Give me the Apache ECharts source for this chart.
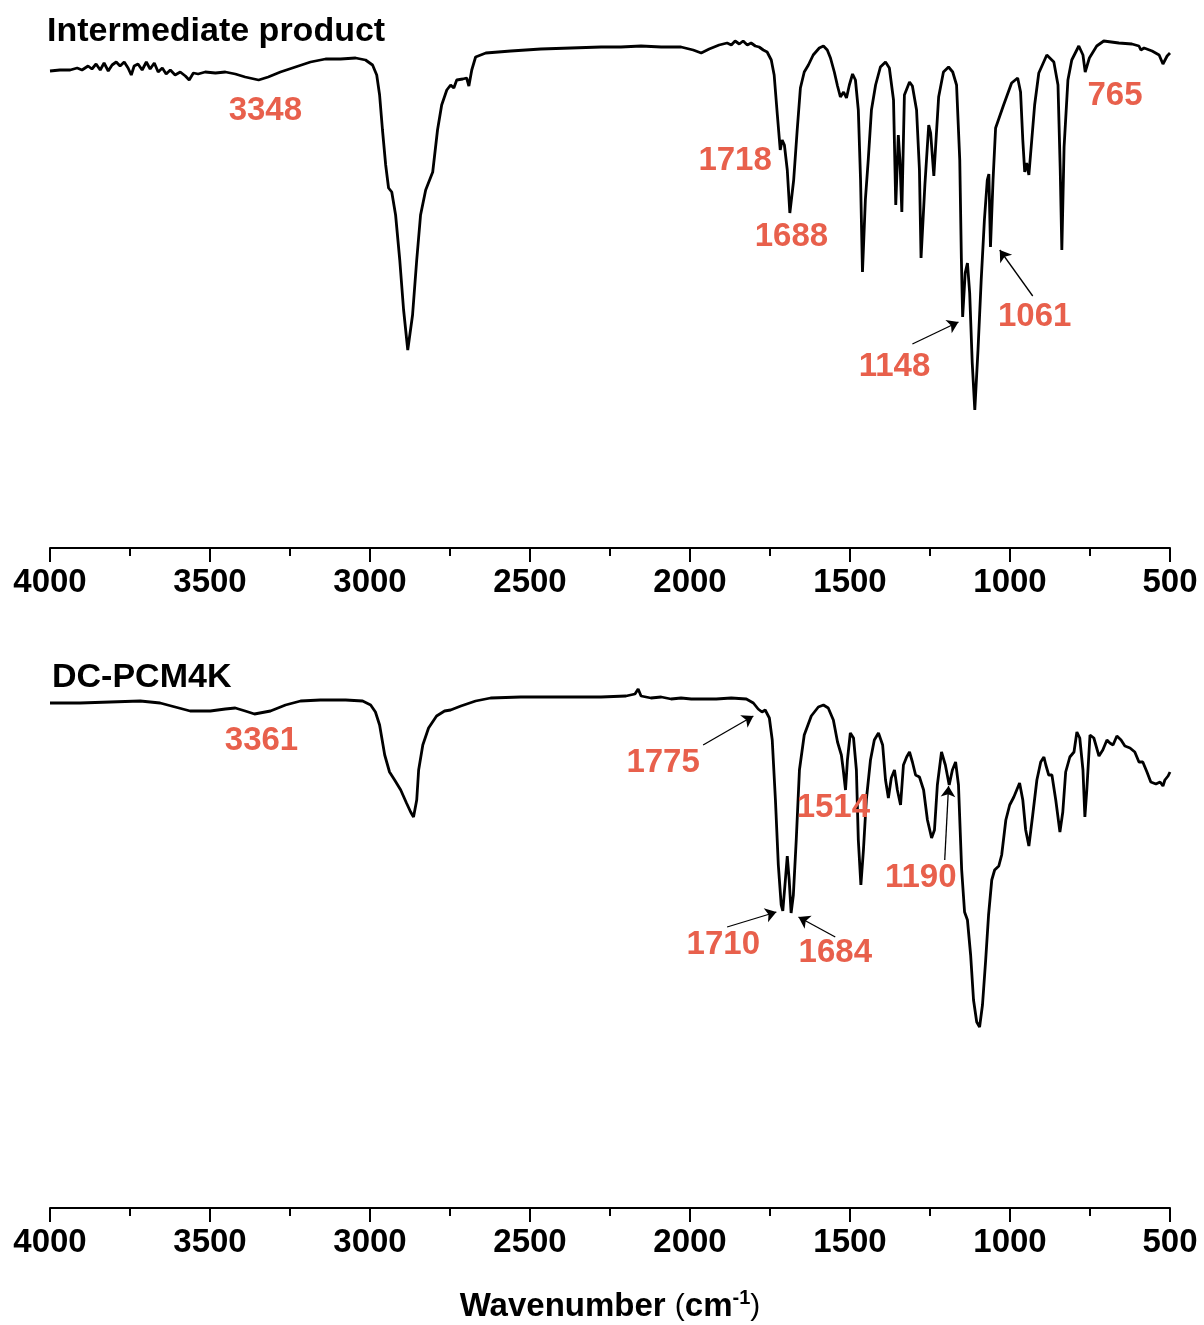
<!DOCTYPE html>
<html>
<head>
<meta charset="utf-8">
<script src="https://cdn.jsdelivr.net/npm/echarts@6/dist/echarts.min.js"></script>
<style>
html,body{margin:0;padding:0;background:#fff;}
#chart{width:1204px;height:1325px;}
</style>
</head>
<body>
<div id="chart"></div>
<script>
// ---------- DATA ----------
const xTickLabels = ['500','1000','1500','2000','2500','3000','3500','4000'];
const panelTitles = ['Intermediate product', 'DC-PCM4K'];
const axisTitle = 'Wavenumber';

// Intermediate product: wavenumber (cm-1) and transmittance (a.u.)
const topWn = [4000,3969,3937,3915,3900,3881,3869,3856,3843,3831,3818,3806,3793,3781,3768,3756,3746,3737,3725,3712,3699,3687,3674,3662,3649,3637,3624,3609,3593,3577,3565,3552,3537,3515,3483,3452,3421,3390,3348,3318,3280,3233,3186,3139,3092,3045,3014,2992,2979,2970,2961,2951,2942,2932,2920,2907,2895,2882,2867,2854,2842,2826,2804,2789,2776,2760,2748,2738,2729,2710,2698,2691,2682,2670,2638,2560,2466,2372,2278,2216,2153,2090,2028,1990,1965,1940,1909,1884,1871,1859,1846,1834,1821,1809,1796,1784,1771,1759,1746,1737,1727,1718,1712,1705,1696,1688,1676,1665,1655,1643,1630,1615,1596,1583,1571,1561,1549,1539,1530,1520,1511,1502,1492,1483,1474,1467,1461,1452,1443,1433,1420,1405,1389,1377,1364,1357,1349,1344,1338,1330,1314,1305,1292,1283,1278,1266,1254,1248,1238,1223,1208,1192,1179,1167,1157,1152,1148,1140,1133,1126,1118,1110,1100,1090,1080,1071,1066,1061,1053,1045,1020,995,976,967,960,954,948,941,932,923,910,885,863,850,843,838,831,819,807,785,772,765,752,729,707,660,619,597,591,581,556,534,522,509,500];
const topT = [477,478,478,480,478,482,479,484,478,485,477,483,486,482,486,480,473,482,484,478,486,479,485,476,480,474,478,473,476,472,468,475,474,476,475,476,474,471,468,471,476,481,486,489,489,490,488,483,473,453,418,383,360,356,333,288,238,198,233,288,333,358,376,418,443,458,463,460,468,469,470,462,478,491,495,497,499,500,501,501,502,501,501,498,495,499,503,505,503,507,504,507,503,505,502,501,498,496,488,473,433,398,408,403,378,335,368,418,460,476,483,493,500,502,498,490,476,462,451,456,450,463,474,468,438,368,276,348,388,438,463,481,486,480,448,343,413,388,336,453,466,462,438,378,290,363,423,415,372,451,476,481,476,463,388,290,231,275,285,255,185,138,198,268,328,368,374,301,368,420,443,465,470,456,408,376,385,373,408,443,475,493,486,463,378,298,401,468,488,502,493,476,490,502,507,505,504,502,498,500,497,493,484,492,495];

// DC-PCM4K
const botWn = [4000,3906,3812,3718,3656,3609,3562,3499,3452,3421,3390,3361,3311,3264,3217,3155,3076,3023,2998,2983,2970,2954,2939,2923,2904,2886,2873,2864,2854,2848,2835,2817,2792,2767,2748,2716,2670,2623,2529,2403,2278,2200,2172,2162,2153,2122,2090,2059,2028,1996,1965,1918,1871,1824,1802,1787,1775,1765,1752,1743,1733,1724,1715,1710,1702,1696,1690,1684,1677,1668,1658,1643,1621,1599,1583,1568,1552,1539,1527,1521,1514,1508,1499,1489,1480,1474,1466,1458,1449,1436,1424,1411,1398,1389,1380,1371,1361,1352,1342,1333,1323,1314,1305,1295,1283,1270,1258,1245,1236,1227,1214,1202,1190,1180,1170,1161,1151,1142,1133,1123,1114,1104,1095,1086,1076,1067,1057,1048,1035,1026,1013,1001,988,979,970,960,951,941,929,916,904,894,888,879,869,857,844,835,826,813,800,791,782,772,766,760,750,738,722,710,697,688,678,666,653,641,625,610,597,585,572,560,544,531,522,516,506,500];
const botT = [505,505,506,507,505,501,497,497,499,500,497,494,497,503,507,508,508,507,503,496,483,453,436,428,418,405,396,391,408,438,463,480,492,497,498,502,507,510,511,511,511,512,514,519,512,510,511,509,510,509,509,509,510,509,505,499,496,498,490,468,408,343,303,297,328,352,328,295,313,368,438,473,492,501,503,500,488,466,453,438,418,448,475,470,438,368,323,358,408,448,468,475,463,428,410,430,438,418,403,443,451,456,446,433,431,418,388,370,378,423,456,443,423,438,446,423,338,296,288,253,208,186,181,203,248,293,328,338,342,353,388,403,411,418,425,408,378,362,393,428,446,451,443,433,433,408,376,396,436,451,456,476,470,438,391,418,473,470,452,458,468,465,463,472,468,462,460,456,446,446,436,426,424,426,422,428,432,436];

const topPeaks = ['3348','1718','1688','1148','1061','765'];
const botPeaks = ['3361','1775','1514','1190','1710','1684'];

// ---------- ANNOTATION LAYOUT (data units) ----------
const RED = '#E8604C';
const topLabelAt = [[3327,437],[1859,387],[1683,311],[1361,181],[923,231],[672,452]];
const botLabelAt = [[3339,467],[2084,445],[1552,400],[1279,330],[1896,263],[1546,255]];
const topArrows = [[[1305,204],[1161,226]], [[929,252],[1032,298]]];
const botArrows = [[[1959,463],[1802,492]], [[1884,281],[1730,296]], [[1546,271],[1661,291]], [[1204,348],[1192,422]]];

const FONT = 'Liberation Sans, Arial, sans-serif';

function zip(a, b){ return a.map((v,i)=>[v,b[i]]); }

function xAxisCfg(gridIndex, withName){
  const ax = {
    type:'value', gridIndex, inverse:true, min:500, max:4000, interval:500,
    axisLine:{show:true, onZero:false, lineStyle:{color:'#000', width:2}},
    axisTick:{show:true, length:14, lineStyle:{color:'#000', width:2}},
    minorTick:{show:true, splitNumber:2, length:8, lineStyle:{color:'#000', width:2}},
    splitLine:{show:false}, minorSplitLine:{show:false},
    axisLabel:{color:'#000', fontSize:33, fontWeight:'bold', fontFamily:FONT, margin:18,
      formatter: v => xTickLabels[xTickLabels.indexOf(String(v))] }
  };
  if (withName){
    ax.name = '{a|' + axisTitle + ' }{p|(}{a|cm}{s|-1}{p|)}';
    ax.nameLocation = 'middle';
    ax.nameGap = 80;
    ax.nameTextStyle = {
      rich:{
        a:{fontSize:33, fontWeight:'bold', fontFamily:FONT, color:'#000'},
        p:{fontSize:30, fontWeight:'normal', fontFamily:FONT, color:'#000'},
        s:{fontSize:20, fontWeight:'bold', fontFamily:FONT, color:'#000', padding:[0,0,18,0]}
      }
    };
  }
  return ax;
}
function yAxisCfg(gridIndex){
  return {type:'value', gridIndex, min:0, max:528, show:false};
}

function markPoints(texts, pos){
  return {
    symbol:'circle', symbolSize:1, silent:true,
    itemStyle:{color:'rgba(0,0,0,0)'},
    label:{show:true, position:'inside', color:RED, fontSize:33, fontWeight:'bold', fontFamily:FONT,
      formatter: p => p.name},
    data: texts.map((t,i)=>({name:t, coord:pos[i]}))
  };
}
function markArrows(arr){
  return {
    silent:true, symbol:['none','arrow'], symbolSize:11,
    label:{show:false},
    itemStyle:{color:'#000'},
    lineStyle:{color:'#000', width:1.3, type:'solid'},
    emphasis:{disabled:true},
    data: arr.map(a=>[{coord:a[0]},{coord:a[1]}])
  };
}

const chart = echarts.init(document.getElementById('chart'), null, {renderer:'canvas'});
chart.setOption({
  backgroundColor:'#fff',
  animation:false,
  title:[
    {text:panelTitles[0], left:47, top:15, padding:0, textStyle:{fontSize:34, fontWeight:'bold', fontFamily:FONT, color:'#000'}},
    {text:panelTitles[1], left:52, top:661, padding:0, textStyle:{fontSize:34, fontWeight:'bold', fontFamily:FONT, color:'#000'}}
  ],
  grid:[
    {left:50, right:34, top:20, height:528},
    {left:50, right:34, top:680, height:528}
  ],
  xAxis:[xAxisCfg(0,false), xAxisCfg(1,true)],
  yAxis:[yAxisCfg(0), yAxisCfg(1)],
  series:[
    {type:'line', xAxisIndex:0, yAxisIndex:0, data:zip(topWn, topT), showSymbol:false, symbol:'none',
     lineStyle:{color:'#000', width:2.8}, itemStyle:{color:'#000'}, clip:false,
     markPoint:markPoints(topPeaks, topLabelAt), markLine:markArrows(topArrows)},
    {type:'line', xAxisIndex:1, yAxisIndex:1, data:zip(botWn, botT), showSymbol:false, symbol:'none',
     lineStyle:{color:'#000', width:2.8}, itemStyle:{color:'#000'}, clip:false,
     markPoint:markPoints(botPeaks, botLabelAt), markLine:markArrows(botArrows)}
  ]
});
</script>
</body>
</html>
